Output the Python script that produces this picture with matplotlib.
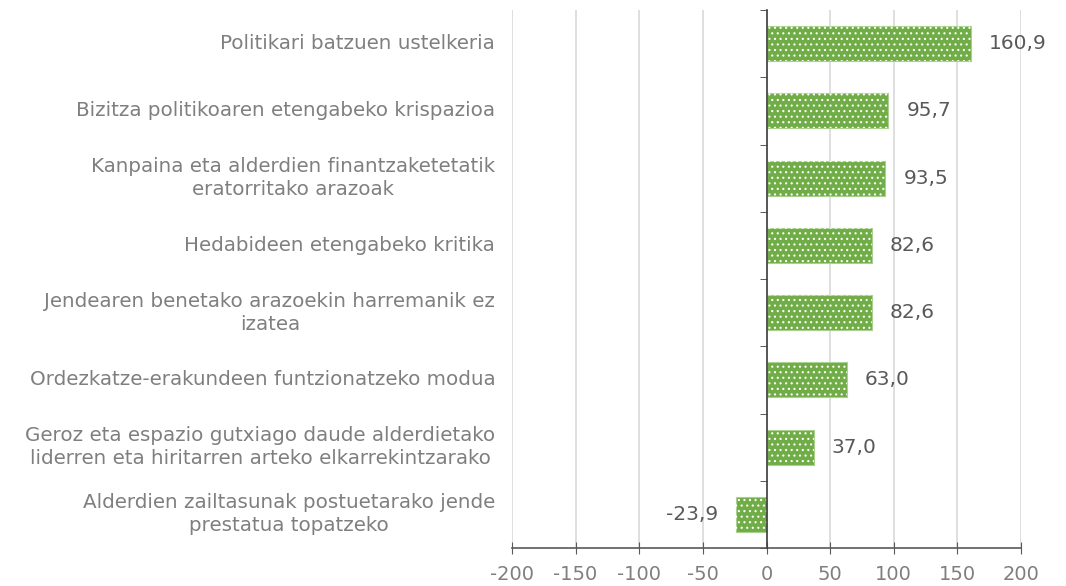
import matplotlib
matplotlib.use("Agg")
import matplotlib.pyplot as plt
import numpy as np

categories = [
    "Politikari batzuen ustelkeria",
    "Bizitza politikoaren etengabeko krispazioa",
    "Kanpaina eta alderdien finantzaketetatik\neratorritako arazoak",
    "Hedabideen etengabeko kritika",
    "Jendearen benetako arazoekin harremanik ez\nizatea",
    "Ordezkatze-erakundeen funtzionatzeko modua",
    "Geroz eta espazio gutxiago daude alderdietako\nliderren eta hiritarren arteko elkarrekintzarako",
    "Alderdien zailtasunak postuetarako jende\nprestatua topatzeko",
]
values = [160.9, 95.7, 93.5, 82.6, 82.6, 63.0, 37.0, -23.9]
xticks = [-200, -150, -100, -50, 0, 50, 100, 150, 200]

plt.rcParams['font.family'] = ['DejaVu Sans']
plt.rcParams['hatch.linewidth'] = 0.8

fig = plt.figure(figsize=(10.66, 5.86), dpi=100)
ax = fig.add_axes([512/1066, 1-548/586, (1021-512)/1066, (548-10)/586])

green = "#70AD47"
txt = "#595959"
lbl = "#7F7F7F"
y = np.arange(len(categories))
ax.barh(y, values, height=0.52, color=green, edgecolor="#A9D08E", linewidth=0.8, zorder=2)
ax.barh(y, values, height=0.52, color="none", edgecolor="white", linewidth=0, hatch="...", zorder=3)

ax.set_xlim(-200, 200)
ax.set_ylim(len(categories) - 0.5, -0.5)
ax.set_xticks(xticks)
ax.set_xticklabels([str(t) for t in xticks], color=lbl, fontsize=14)
ax.tick_params(axis='x', direction='inout', length=8, color=txt, pad=8)
ax.grid(axis='x', color="#D9D9D9", linewidth=1.2, zorder=0)
ax.set_axisbelow(True)

for s in ['top', 'right']:
    ax.spines[s].set_visible(False)
ax.spines['bottom'].set_color(txt)
ax.spines['bottom'].set_linewidth(1.2)
ax.spines['left'].set_position(('data', 0))
ax.spines['left'].set_color("#404040")
ax.spines['left'].set_linewidth(1.2)
ax.spines['left'].set_zorder(4)
ax.set_yticks([])
ax.set_yticks(np.arange(len(categories) + 1) - 0.5, minor=True)
ax.tick_params(axis='y', which='minor', direction='out', length=5, color="#404040", labelleft=False)

for yi, (c, v) in enumerate(zip(categories, values)):
    ax.text(-0.033, yi, c, transform=ax.get_yaxis_transform(), ha='right', va='center',
            multialignment='center', fontsize=14.3, color=lbl, linespacing=1.28)
    s = f"{v:.1f}".replace('.', ',')
    if v >= 0:
        ax.annotate(s, (v, yi), xytext=(13, 0), textcoords='offset points',
                    ha='left', va='center', fontsize=14.5, color=txt)
    else:
        ax.annotate(s, (v, yi), xytext=(-13, 0), textcoords='offset points',
                    ha='right', va='center', fontsize=14.5, color=txt)

fig.savefig("out.png", dpi=100)
